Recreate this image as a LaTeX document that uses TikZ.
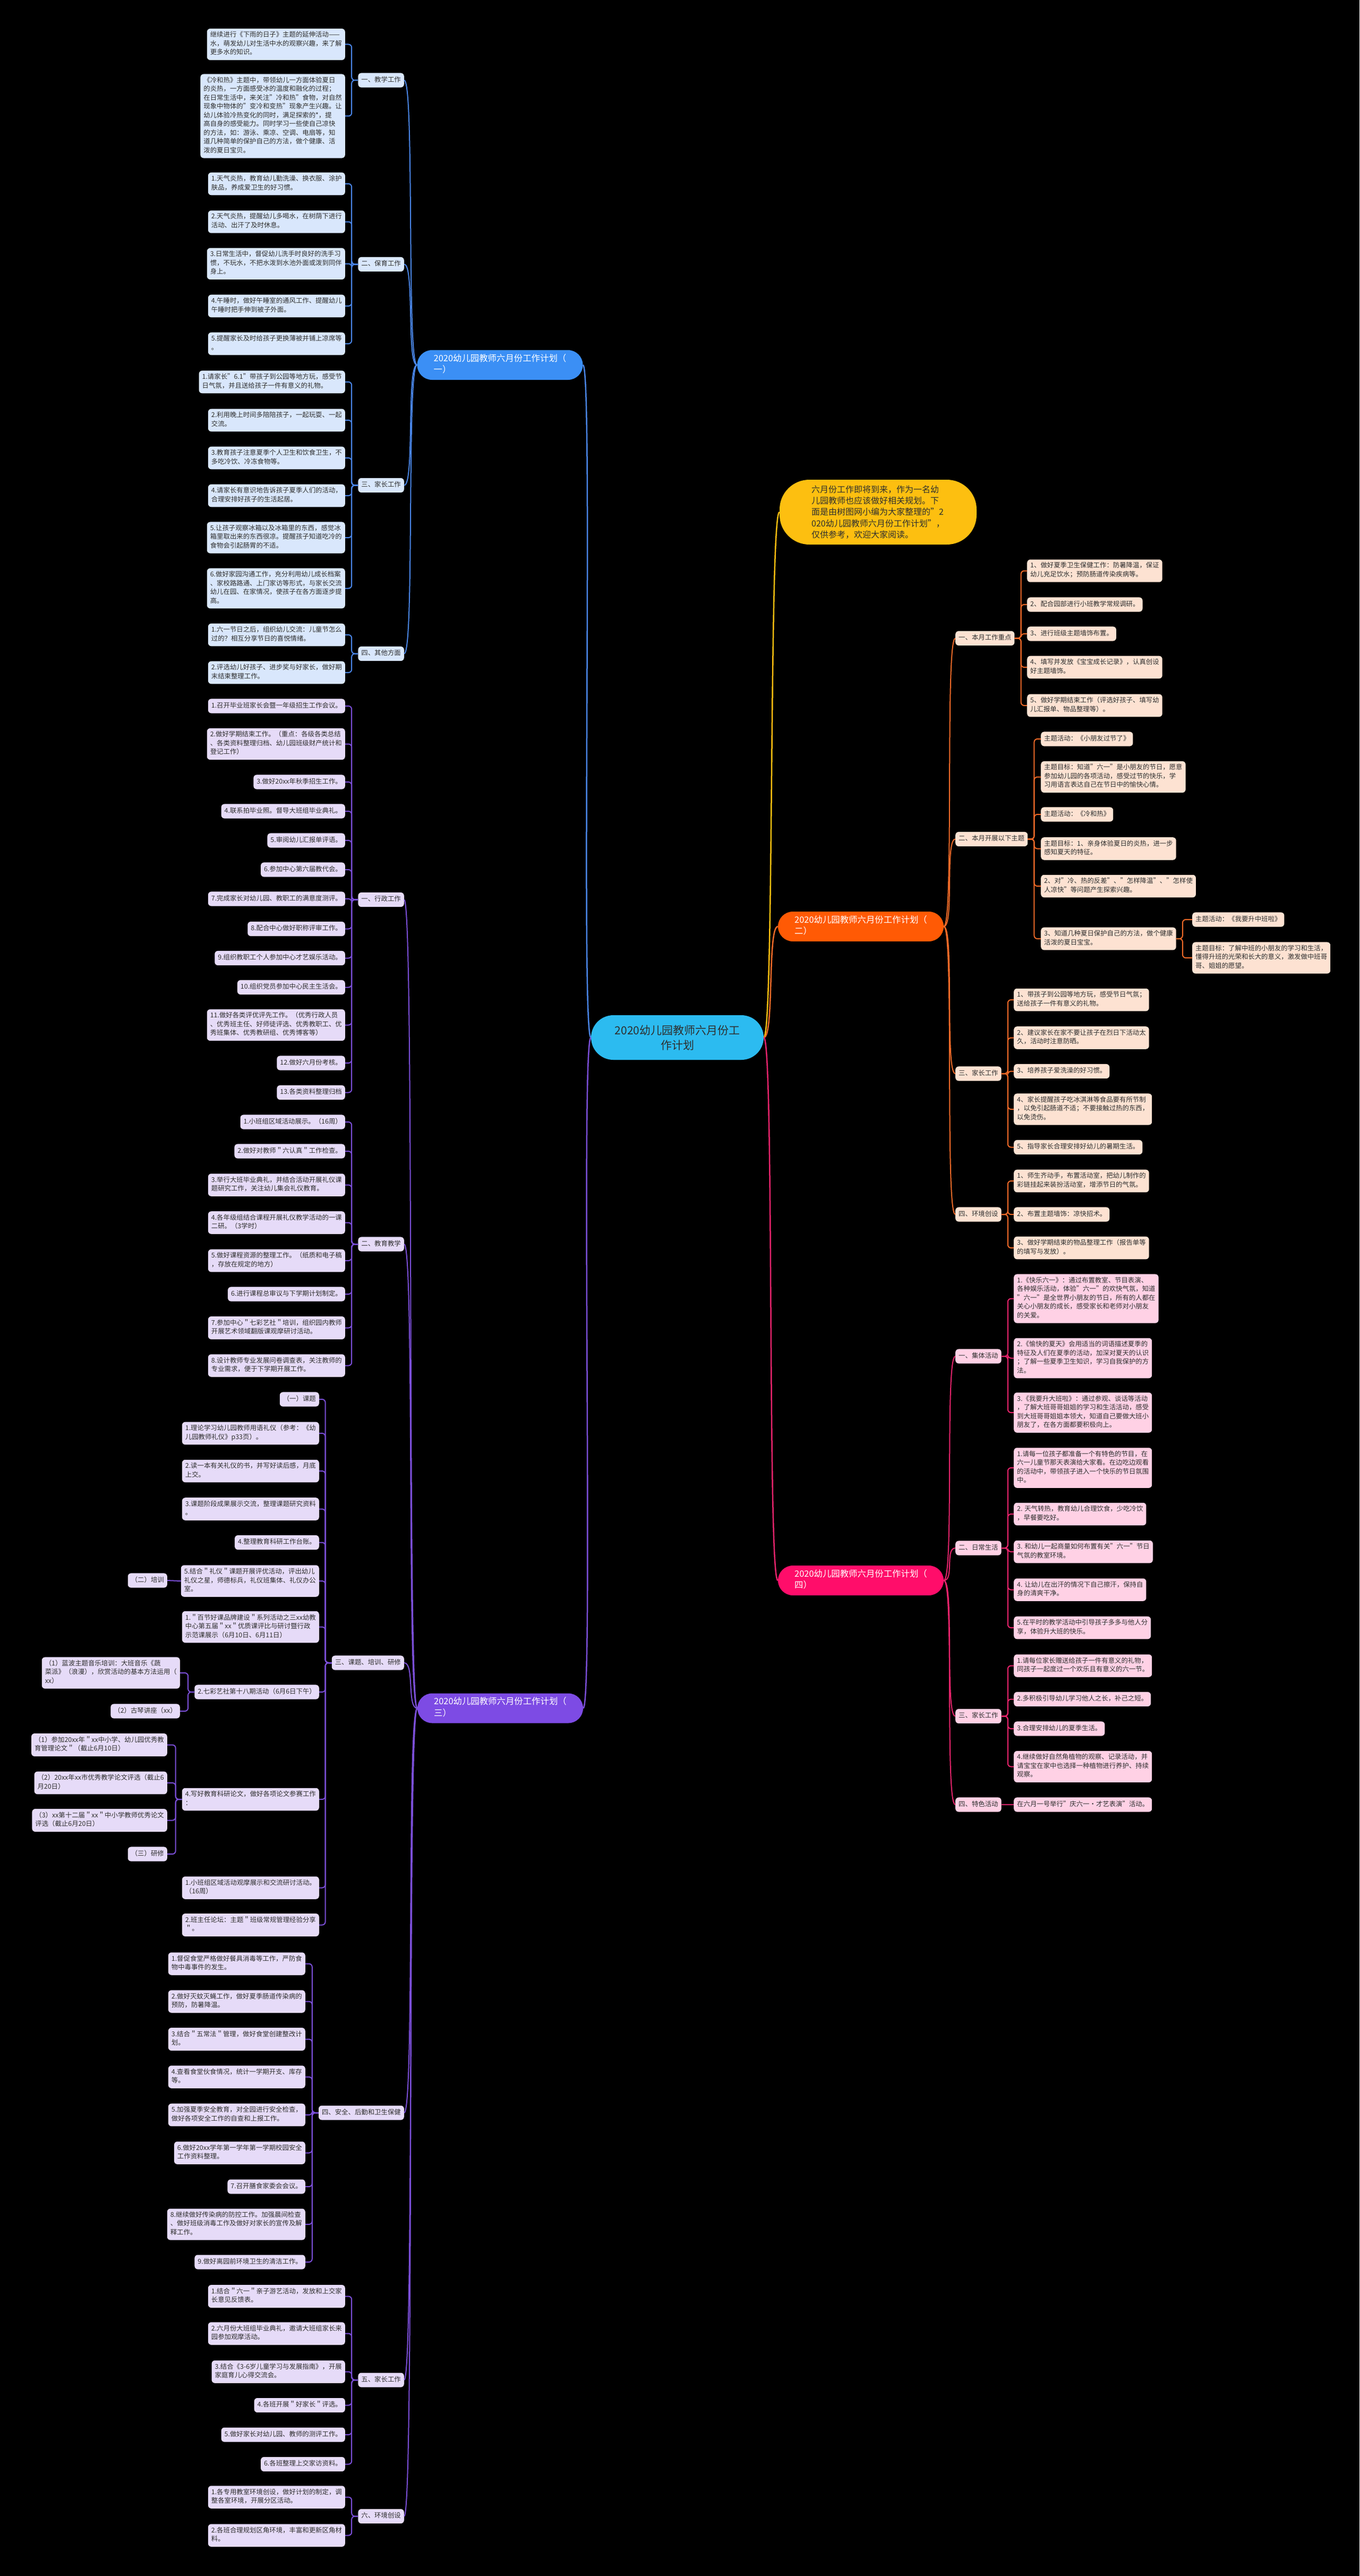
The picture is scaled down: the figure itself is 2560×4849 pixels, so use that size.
\documentclass[tikz,border=0pt]{standalone}
\usepackage{fontspec}
\setmainfont{Noto Sans CJK SC}
\usepackage{tikz}

\definecolor{bluemain}{HTML}{3B8FF5}
\definecolor{bluelight}{HTML}{D9E7FC}
\definecolor{blueline}{HTML}{4A86E8}
\definecolor{purplemain}{HTML}{7D4BE4}
\definecolor{purplelight}{HTML}{E6DBF8}
\definecolor{purpleline}{HTML}{7B4FD8}
\definecolor{orangemain}{HTML}{FF5A05}
\definecolor{orangelight}{HTML}{FDE2D2}
\definecolor{orangeline}{HTML}{F06A28}
\definecolor{pinkmain}{HTML}{FF0D6A}
\definecolor{pinklight}{HTML}{FFD1E5}
\definecolor{pinkline}{HTML}{E8246C}
\definecolor{rootcyan}{HTML}{2CBBF0}
\definecolor{introyellow}{HTML}{FDBF10}
\definecolor{textdark}{HTML}{2E2E2E}

\tikzset{
  leaf/.style={rectangle, rounded corners=6pt, inner xsep=6pt, inner ysep=5.3pt, align=left, text=textdark,
    font=\fontsize{12.4}{16.5}\selectfont, execute at begin node=\strut, execute at end node=\strut},
  blue_leaf/.style={leaf, fill=bluelight, anchor=east},
  purple_leaf/.style={leaf, fill=purplelight, anchor=east},
  orange_leaf/.style={leaf, fill=orangelight, anchor=west},
  pink_leaf/.style={leaf, fill=pinklight, anchor=west},
  plan/.style={rectangle, rounded corners=28pt, minimum width=312pt, minimum height=56pt, inner sep=6.5pt,
    align=left, text=white, font=\fontsize{16.4}{21.5}\selectfont, execute at begin node=\strut, execute at end node=\strut},
  root_box/.style={rectangle, rounded corners=42pt, fill=rootcyan, minimum width=325pt, minimum height=84pt,
    align=center, text=textdark, font=\fontsize{21}{28}\selectfont},
  intro_box/.style={rectangle, rounded corners=56pt, fill=introyellow, minimum width=371pt, minimum height=122pt,
    align=left, text=textdark, font=\fontsize{16}{21.4}\selectfont},
  blue_link/.style={draw=blueline, line width=2pt, rounded corners=6pt},
  purple_link/.style={draw=purpleline, line width=2pt, rounded corners=6pt},
  orange_link/.style={draw=orangeline, line width=2pt, rounded corners=6pt},
  pink_link/.style={draw=pinkline, line width=2pt, rounded corners=6pt},
  blue_curve/.style={draw=blueline, line width=2pt},
  purple_curve/.style={draw=purpleline, line width=2pt},
  orange_curve/.style={draw=orangeline, line width=2pt},
  pink_curve/.style={draw=pinkline, line width=2pt},
  yellow_curve/.style={draw=introyellow, line width=2pt}
}

\begin{document}
\begin{tikzpicture}[x=1pt,y=1pt]
\useasboundingbox (0,0) rectangle (2560,-4849);
\fill[black] (0,0) rectangle (2560,-4849);

% centre and intro
\node[root_box] (root) at (1275.5,-1953) {2020幼儿园教师六月份工\\作计划};
\node[intro_box] (intro) at (1653.5,-964) {六月份工作即将到来，作为一名幼\\儿园教师也应该做好相关规划。下\\面是由树图网小编为大家整理的"2\\020幼儿园教师六月份工作计划"，\\仅供参考，欢迎大家阅读。};

% plan one (blue)
\node[plan, fill=bluemain] (plan_a) at (941.5,-687) {2020幼儿园教师六月份工作计划（\\一）};
\node[blue_leaf] (a_teach) at (761,-151) {一、教学工作};
\node[blue_leaf] (a_teach_1) at (650,-83.5) {继续进行《下雨的日子》主题的延伸活动——\\水，萌发幼儿对生活中水的观察兴趣，来了解\\更多水的知识。};
\node[blue_leaf] (a_teach_2) at (650,-218.5) {《冷和热》主题中，带领幼儿一方面体验夏日\\的炎热，一方面感受冰的温度和融化的过程；\\在日常生活中，来关注"冷和热"食物，对自然\\现象中物体的"变冷和变热"现象产生兴趣。让\\幼儿体验冷热变化的同时，满足探索的*，提\\高自身的感受能力。同时学习一些使自己凉快\\的方法，如：游泳、乘凉、空调、电扇等，知\\道几种简单的保护自己的方法，做个健康、活\\泼的夏日宝贝。};
\node[blue_leaf] (a_care) at (761,-497.5) {二、保育工作};
\node[blue_leaf] (a_care_1) at (650,-346) {1.天气炎热，教育幼儿勤洗澡、换衣服、涂护\\肤品，养成爱卫生的好习惯。};
\node[blue_leaf] (a_care_2) at (650,-417.5) {2.天气炎热，提醒幼儿多喝水，在树荫下进行\\活动、出汗了及时休息。};
\node[blue_leaf] (a_care_3) at (650,-496.5) {3.日常生活中，督促幼儿洗手时良好的洗手习\\惯，不玩水，不把水泼到水池外面或泼到同伴\\身上。};
\node[blue_leaf] (a_care_4) at (650,-576) {4.午睡时，做好午睡室的通风工作、提醒幼儿\\午睡时把手伸到被子外面。};
\node[blue_leaf] (a_care_5) at (650,-647) {5.提醒家长及时给孩子更换薄被并铺上凉席等\\。};
\node[blue_leaf] (a_parent) at (761,-913.5) {三、家长工作};
\node[blue_leaf] (a_parent_1) at (650,-719) {1.请家长"6.1"带孩子到公园等地方玩，感受节\\日气氛，并且送给孩子一件有意义的礼物。};
\node[blue_leaf] (a_parent_2) at (650,-791) {2.利用晚上时间多陪陪孩子，一起玩耍、一起\\交流。};
\node[blue_leaf] (a_parent_3) at (650,-862) {3.教育孩子注意夏季个人卫生和饮食卫生，不\\多吃冷饮、冷冻食物等。};
\node[blue_leaf] (a_parent_4) at (650,-933) {4.请家长有意识地告诉孩子夏季人们的活动，\\合理安排好孩子的生活起居。};
\node[blue_leaf] (a_parent_5) at (650,-1012) {5.让孩子观察冰箱以及冰箱里的东西，感觉冰\\箱里取出来的东西很凉。提醒孩子知道吃冷的\\食物会引起肠胃的不适。};
\node[blue_leaf] (a_parent_6) at (650,-1107.5) {6.做好家园沟通工作，充分利用幼儿成长档案\\、家校路路通、上门家访等形式，与家长交流\\幼儿在园、在家情况，使孩子在各方面逐步提\\高。};
\node[blue_leaf] (a_other) at (761,-1230.5) {四、其他方面};
\node[blue_leaf] (a_other_1) at (650,-1195) {1.六一节日之后，组织幼儿交流：儿童节怎么\\过的？相互分享节日的喜悦情绪。};
\node[blue_leaf] (a_other_2) at (650,-1266) {2.评选幼儿好孩子、进步奖与好家长，做好期\\末结束整理工作。};

% plan three (purple)
\node[plan, fill=purplemain] (plan_c) at (942,-3215.5) {2020幼儿园教师六月份工作计划（\\三）};
\node[purple_leaf] (c_admin) at (761,-1693.5) {一、行政工作};
\node[purple_leaf] (c_admin_1) at (650,-1329) {1.召开毕业班家长会暨一年级招生工作会议。};
\node[purple_leaf] (c_admin_2) at (650,-1400.5) {2.做好学期结束工作。（重点：各级各类总结\\、各类资料整理归档、幼儿园班级财产统计和\\登记工作）};
\node[purple_leaf] (c_admin_3) at (650,-1472) {3.做好20xx年秋季招生工作。};
\node[purple_leaf] (c_admin_4) at (650,-1527) {4.联系拍毕业照。督导大班组毕业典礼。};
\node[purple_leaf] (c_admin_5) at (650,-1582) {5.审阅幼儿汇报单评语。};
\node[purple_leaf] (c_admin_6) at (650,-1637) {6.参加中心第六届教代会。};
\node[purple_leaf] (c_admin_7) at (650,-1692) {7.完成家长对幼儿园、教职工的满意度测评。};
\node[purple_leaf] (c_admin_8) at (650,-1748.5) {8.配合中心做好职称评审工作。};
\node[purple_leaf] (c_admin_9) at (650,-1803.5) {9.组织教职工个人参加中心才艺娱乐活动。};
\node[purple_leaf] (c_admin_10) at (650,-1858.5) {10.组织党员参加中心民主生活会。};
\node[purple_leaf] (c_admin_11) at (650,-1929.5) {11.做好各类评优评先工作。（优秀行政人员\\、优秀班主任、好师徒评选、优秀教职工、优\\秀班集体、优秀教研组、优秀博客等）};
\node[purple_leaf] (c_admin_12) at (650,-2001) {12.做好六月份考核。};
\node[purple_leaf] (c_admin_13) at (650,-2056.5) {13.各类资料整理归档};
\node[purple_leaf] (c_edu) at (761,-2342) {二、教育教学};
\node[purple_leaf] (c_edu_1) at (650,-2112) {1.小班组区域活动展示。（16周）};
\node[purple_leaf] (c_edu_2) at (650,-2167) {2.做好对教师＂六认真＂工作检查。};
\node[purple_leaf] (c_edu_3) at (650,-2230.5) {3.举行大班毕业典礼，并结合活动开展礼仪课\\题研究工作，关注幼儿集会礼仪教育。};
\node[purple_leaf] (c_edu_4) at (650,-2301.5) {4.各年级组结合课程开展礼仪教学活动的一课\\二研。（3学时）};
\node[purple_leaf] (c_edu_5) at (650,-2373) {5.做好课程资源的整理工作。（纸质和电子稿\\，存放在规定的地方）};
\node[purple_leaf] (c_edu_6) at (650,-2436) {6.进行课程总审议与下学期计划制定。};
\node[purple_leaf] (c_edu_7) at (650,-2499.5) {7.参加中心＂七彩艺社＂培训，组织园内教师\\开展艺术领域翻版课观摩研讨活动。};
\node[purple_leaf] (c_edu_8) at (650,-2570.5) {8.设计教师专业发展问卷调查表，关注教师的\\专业需求，便于下学期开展工作。};
\node[purple_leaf] (c_study) at (761,-3130) {三、课题、培训、研修};
\node[purple_leaf] (c_study_1) at (601,-2634) {（一）课题};
\node[purple_leaf] (c_study_2) at (601,-2698) {1.理论学习幼儿园教师用语礼仪（参考：《幼\\儿园教师礼仪》p33页）。};
\node[purple_leaf] (c_study_3) at (601,-2769) {2.读一本有关礼仪的书，并写好读后感，月底\\上交。};
\node[purple_leaf] (c_study_4) at (601,-2840.5) {3.课题阶段成果展示交流，整理课题研究资料\\。};
\node[purple_leaf] (c_study_5) at (601,-2903.5) {4.整理教育科研工作台账。};
\node[purple_leaf] (c_study_6) at (601,-2976) {5.结合＂礼仪＂课题开展评优活动，评出幼儿\\礼仪之星，师德标兵，礼仪班集体、礼仪办公\\室。};
\node[purple_leaf] (c_study_7) at (601,-3062.5) {1.＂百节好课品牌建设＂系列活动之三xx幼教\\中心第五届＂xx＂优质课评比与研讨暨行政\\示范课展示（6月10日、6月11日）};
\node[purple_leaf] (c_study_8) at (601,-3185) {2.七彩艺社第十八期活动（6月6日下午）};
\node[purple_leaf] (c_study_9) at (601,-3387) {4.写好教育科研论文，做好各项论文参赛工作\\：};
\node[purple_leaf] (c_study_10) at (601,-3553.5) {1.小班组区域活动观摩展示和交流研讨活动。\\（16周）};
\node[purple_leaf] (c_study_11) at (601,-3623.5) {2.班主任论坛：主题＂班级常规管理经验分享\\＂。};
\node[purple_leaf] (c_train) at (315,-2975) {（二）培训};
\node[purple_leaf] (c_art_1) at (339,-3149) {（1）蓝波主题音乐培训：大班音乐《蔬\\菜派》（浪漫），欣赏活动的基本方法运用（\\xx）};
\node[purple_leaf] (c_art_2) at (339,-3221) {（2）古琴讲座（xx）};
\node[purple_leaf] (c_paper_1) at (315,-3284.5) {（1）参加20xx年＂xx中小学、幼儿园优秀教\\育管理论文＂（截止6月10日）};
\node[purple_leaf] (c_paper_2) at (315,-3356) {（2）20xx年xx市优秀教学论文评选（截止6\\月20日）};
\node[purple_leaf] (c_paper_3) at (315,-3426.5) {（3）xx第十二届＂xx＂中小学教师优秀论文\\评选（截止6月20日）};
\node[purple_leaf] (c_research) at (315,-3490) {（三）研修};
\node[purple_leaf] (c_safe) at (761,-3977) {四、安全、后勤和卫生保健};
\node[purple_leaf] (c_safe_1) at (575,-3696.5) {1.督促食堂严格做好餐具消毒等工作，严防食\\物中毒事件的发生。};
\node[purple_leaf] (c_safe_2) at (575,-3767.5) {2.做好灭蚊灭蝇工作，做好夏季肠道传染病的\\预防，防暑降温。};
\node[purple_leaf] (c_safe_3) at (575,-3838.5) {3.结合＂五常法＂管理，做好食堂创建整改计\\划。};
\node[purple_leaf] (c_safe_4) at (575,-3909.5) {4.查看食堂伙食情况，统计一学期开支、库存\\等。};
\node[purple_leaf] (c_safe_5) at (575,-3981) {5.加强夏季安全教育，对全园进行安全检查，\\做好各项安全工作的自查和上报工作。};
\node[purple_leaf] (c_safe_6) at (575,-4052.5) {6.做好20xx学年第一学年第一学期校园安全\\工作资料整理。};
\node[purple_leaf] (c_safe_7) at (575,-4116) {7.召开膳食家委会会议。};
\node[purple_leaf] (c_safe_8) at (575,-4187) {8.继续做好传染病的防控工作。加强晨间检查\\、做好班级消毒工作及做好对家长的宣传及解\\释工作。};
\node[purple_leaf] (c_safe_9) at (575,-4258) {9.做好离园前环境卫生的清洁工作。};
\node[purple_leaf] (c_home) at (761,-4480) {五、家长工作};
\node[purple_leaf] (c_home_1) at (650,-4322.5) {1.结合＂六一＂亲子游艺活动，发放和上交家\\长意见反馈表。};
\node[purple_leaf] (c_home_2) at (650,-4392.5) {2.六月份大班组毕业典礼，邀请大班组家长来\\园参加观摩活动。};
\node[purple_leaf] (c_home_3) at (650,-4464.5) {3.结合《3-6岁儿童学习与发展指南》，开展\\家庭育儿心得交流会。};
\node[purple_leaf] (c_home_4) at (650,-4527.5) {4.各班开展＂好家长＂评选。};
\node[purple_leaf] (c_home_5) at (650,-4583) {5.做好家长对幼儿园、教师的测评工作。};
\node[purple_leaf] (c_home_6) at (650,-4638.5) {6.各班整理上交家访资料。};
\node[purple_leaf] (c_env) at (761,-4736.5) {六、环境创设};
\node[purple_leaf] (c_env_1) at (650,-4700.5) {1.各专用教室环境创设，做好计划的制定，调\\整各室环境，开展分区活动。};
\node[purple_leaf] (c_env_2) at (650,-4772.5) {2.各班合理规划区角环境，丰富和更新区角材\\料。};

% plan two (orange)
\node[plan, fill=orangemain] (plan_b) at (1621,-1744) {2020幼儿园教师六月份工作计划（\\二）};
\node[orange_leaf] (b_focus) at (1799,-1201.5) {一、本月工作重点};
\node[orange_leaf] (b_focus_1) at (1934,-1074.5) {1、做好夏季卫生保健工作：防暑降温，保证\\幼儿充足饮水；预防肠道传染疾病等。};
\node[orange_leaf] (b_focus_2) at (1934,-1138) {2、配合园部进行小班教学常规调研。};
\node[orange_leaf] (b_focus_3) at (1934,-1193) {3、进行班级主题墙饰布置。};
\node[orange_leaf] (b_focus_4) at (1934,-1256) {4、填写并发放《宝宝成长记录》，认真创设\\好主题墙饰。};
\node[orange_leaf] (b_focus_5) at (1934,-1328) {5、做好学期结束工作（评选好孩子、填写幼\\儿汇报单、物品整理等）。};
\node[orange_leaf] (b_theme) at (1799,-1579.5) {二、本月开展以下主题};
\node[orange_leaf] (b_theme_1) at (1960,-1391) {主题活动：《小朋友过节了》};
\node[orange_leaf] (b_theme_2) at (1960,-1462.5) {主题目标：知道"六一"是小朋友的节日，愿意\\参加幼儿园的各项活动，感受过节的快乐，学\\习用语言表达自己在节日中的愉快心情。};
\node[orange_leaf] (b_theme_3) at (1960,-1533) {主题活动：《冷和热》};
\node[orange_leaf] (b_theme_4) at (1960,-1597.5) {主题目标：1、亲身体验夏日的炎热，进一步\\感知夏天的特征。};
\node[orange_leaf] (b_theme_5) at (1960,-1668) {2、对"冷、热的反差"、"怎样降温"、"怎样使\\人凉快"等问题产生探索兴趣。};
\node[orange_leaf] (b_theme_6) at (1960,-1767) {3、知道几种夏日保护自己的方法，做个健康\\活泼的夏日宝宝。};
\node[orange_leaf] (b_grow_1) at (2245,-1731) {主题活动：《我要升中班啦》};
\node[orange_leaf] (b_grow_2) at (2245,-1803) {主题目标：了解中班的小朋友的学习和生活，\\懂得升班的光荣和长大的意义，激发做中班哥\\哥、姐姐的愿望。};
\node[orange_leaf] (b_parent) at (1799,-2021) {三、家长工作};
\node[orange_leaf] (b_parent_1) at (1909,-1882) {1、带孩子到公园等地方玩，感受节日气氛；\\送给孩子一件有意义的礼物。};
\node[orange_leaf] (b_parent_2) at (1909,-1953.5) {2、建议家长在家不要让孩子在烈日下活动太\\久，活动时注意防晒。};
\node[orange_leaf] (b_parent_3) at (1909,-2016.5) {3、培养孩子爱洗澡的好习惯。};
\node[orange_leaf] (b_parent_4) at (1909,-2088) {4、家长提醒孩子吃冰淇淋等食品要有所节制\\，以免引起肠道不适；不要接触过热的东西，\\以免烫伤。};
\node[orange_leaf] (b_parent_5) at (1909,-2159.5) {5、指导家长合理安排好幼儿的暑期生活。};
\node[orange_leaf] (b_env) at (1799,-2286) {四、环境创设};
\node[orange_leaf] (b_env_1) at (1909,-2223) {1、师生齐动手，布置活动室，把幼儿制作的\\彩链挂起来装扮活动室，增添节日的气氛。};
\node[orange_leaf] (b_env_2) at (1909,-2286) {2、布置主题墙饰：凉快招术。};
\node[orange_leaf] (b_env_3) at (1909,-2349) {3、做好学期结束的物品整理工作（报告单等\\的填写与发放）。};

% plan four (pink)
\node[plan, fill=pinkmain] (plan_d) at (1621,-2975) {2020幼儿园教师六月份工作计划（\\四）};
\node[pink_leaf] (d_group) at (1799,-2553) {一、集体活动};
\node[pink_leaf] (d_group_1) at (1909,-2444.5) {1.《快乐六一》：通过布置教室、节目表演、\\各种娱乐活动，体验"六一"的欢快气氛，知道\\"六一"是全世界小朋友的节日，所有的人都在\\关心小朋友的成长，感受家长和老师对小朋友\\的关爱。};
\node[pink_leaf] (d_group_2) at (1909,-2556.5) {2.《愉快的夏天》会用适当的词语描述夏季的\\特征及人们在夏季的活动，加深对夏天的认识\\；了解一些夏季卫生知识，学习自我保护的方\\法。};
\node[pink_leaf] (d_group_3) at (1909,-2659) {3.《我要升大班啦》：通过参观、谈话等活动\\，了解大班哥哥姐姐的学习和生活活动，感受\\到大班哥哥姐姐本领大，知道自己要做大班小\\朋友了，在各方面都要积极向上。};
\node[pink_leaf] (d_daily) at (1799,-2914) {二、日常生活};
\node[pink_leaf] (d_daily_1) at (1909,-2763) {1.请每一位孩子都准备一个有特色的节目，在\\六一儿童节那天表演给大家看。在边吃边观看\\的活动中，带领孩子进入一个快乐的节日氛围\\中。};
\node[pink_leaf] (d_daily_2) at (1909,-2850) {2. 天气转热，教育幼儿合理饮食，少吃冷饮\\，早餐要吃好。};
\node[pink_leaf] (d_daily_3) at (1909,-2921) {3. 和幼儿一起商量如何布置有关"六一"节日\\气氛的教室环境。};
\node[pink_leaf] (d_daily_4) at (1909,-2992.5) {4. 让幼儿在出汗的情况下自己擦汗，保持自\\身的清爽干净。};
\node[pink_leaf] (d_daily_5) at (1909,-3064) {5.在平时的教学活动中引导孩子多多与他人分\\享，体验升大班的快乐。};
\node[pink_leaf] (d_parent) at (1799,-3230.5) {三、家长工作};
\node[pink_leaf] (d_parent_1) at (1909,-3135.5) {1.请每位家长赠送给孩子一件有意义的礼物，\\同孩子一起度过一个欢乐且有意义的六一节。};
\node[pink_leaf] (d_parent_2) at (1909,-3198.5) {2.多积极引导幼儿学习他人之长，补己之短。};
\node[pink_leaf] (d_parent_3) at (1909,-3254) {3.合理安排幼儿的夏季生活。};
\node[pink_leaf] (d_parent_4) at (1909,-3325.5) {4.继续做好自然角植物的观察、记录活动，并\\请宝宝在家中也选择一种植物进行养护、持续\\观察。};
\node[pink_leaf] (d_event) at (1799,-3397) {四、特色活动};
\node[pink_leaf] (d_event_1) at (1909,-3397) {在六月一号举行"庆六一·才艺表演"活动。};

% links from the centre
\draw[blue_curve, line width=2.5pt] (root.west) .. controls +(-20,0) and +(20,0) .. (plan_a.east);
\draw[purple_curve, line width=2.5pt] (root.west) .. controls +(-20,0) and +(20,0) .. (plan_c.east);
\draw[yellow_curve, line width=2.5pt] (root.east) .. controls +(20,0) and +(-20,0) .. (intro.west);
\draw[orange_curve, line width=2.5pt] (root.east) .. controls +(20,0) and +(-20,0) .. (plan_b.west);
\draw[pink_curve, line width=2.5pt] (root.east) .. controls +(20,0) and +(-20,0) .. (plan_d.west);

% plan one links
\draw[blue_curve] (plan_a.west) .. controls +(-20,0) and +(20,0) .. (a_teach.east);
\draw[blue_curve] (plan_a.west) .. controls +(-20,0) and +(20,0) .. (a_care.east);
\draw[blue_curve] (plan_a.west) .. controls +(-20,0) and +(20,0) .. (a_parent.east);
\draw[blue_curve] (plan_a.west) .. controls +(-20,0) and +(20,0) .. (a_other.east);
\draw[blue_link] (a_teach.west) -- ++(-12,0) |- (a_teach_1.east);
\draw[blue_link] (a_teach.west) -- ++(-12,0) |- (a_teach_2.east);
\draw[blue_link] (a_care.west) -- ++(-12,0) |- (a_care_1.east);
\draw[blue_link] (a_care.west) -- ++(-12,0) |- (a_care_2.east);
\draw[blue_link] (a_care.west) -- ++(-12,0) |- (a_care_3.east);
\draw[blue_link] (a_care.west) -- ++(-12,0) |- (a_care_4.east);
\draw[blue_link] (a_care.west) -- ++(-12,0) |- (a_care_5.east);
\draw[blue_link] (a_parent.west) -- ++(-12,0) |- (a_parent_1.east);
\draw[blue_link] (a_parent.west) -- ++(-12,0) |- (a_parent_2.east);
\draw[blue_link] (a_parent.west) -- ++(-12,0) |- (a_parent_3.east);
\draw[blue_link] (a_parent.west) -- ++(-12,0) |- (a_parent_4.east);
\draw[blue_link] (a_parent.west) -- ++(-12,0) |- (a_parent_5.east);
\draw[blue_link] (a_parent.west) -- ++(-12,0) |- (a_parent_6.east);
\draw[blue_link] (a_other.west) -- ++(-12,0) |- (a_other_1.east);
\draw[blue_link] (a_other.west) -- ++(-12,0) |- (a_other_2.east);

% plan three links
\draw[purple_curve] (plan_c.west) .. controls +(-20,0) and +(20,0) .. (c_admin.east);
\draw[purple_curve] (plan_c.west) .. controls +(-20,0) and +(20,0) .. (c_edu.east);
\draw[purple_curve] (plan_c.west) .. controls +(-20,0) and +(20,0) .. (c_study.east);
\draw[purple_curve] (plan_c.west) .. controls +(-20,0) and +(20,0) .. (c_safe.east);
\draw[purple_curve] (plan_c.west) .. controls +(-20,0) and +(20,0) .. (c_home.east);
\draw[purple_curve] (plan_c.west) .. controls +(-20,0) and +(20,0) .. (c_env.east);
\draw[purple_link] (c_admin.west) -- ++(-12,0) |- (c_admin_1.east);
\draw[purple_link] (c_admin.west) -- ++(-12,0) |- (c_admin_2.east);
\draw[purple_link] (c_admin.west) -- ++(-12,0) |- (c_admin_3.east);
\draw[purple_link] (c_admin.west) -- ++(-12,0) |- (c_admin_4.east);
\draw[purple_link] (c_admin.west) -- ++(-12,0) |- (c_admin_5.east);
\draw[purple_link] (c_admin.west) -- ++(-12,0) |- (c_admin_6.east);
\draw[purple_link] (c_admin.west) -- ++(-12,0) |- (c_admin_7.east);
\draw[purple_link] (c_admin.west) -- ++(-12,0) |- (c_admin_8.east);
\draw[purple_link] (c_admin.west) -- ++(-12,0) |- (c_admin_9.east);
\draw[purple_link] (c_admin.west) -- ++(-12,0) |- (c_admin_10.east);
\draw[purple_link] (c_admin.west) -- ++(-12,0) |- (c_admin_11.east);
\draw[purple_link] (c_admin.west) -- ++(-12,0) |- (c_admin_12.east);
\draw[purple_link] (c_admin.west) -- ++(-12,0) |- (c_admin_13.east);
\draw[purple_link] (c_edu.west) -- ++(-12,0) |- (c_edu_1.east);
\draw[purple_link] (c_edu.west) -- ++(-12,0) |- (c_edu_2.east);
\draw[purple_link] (c_edu.west) -- ++(-12,0) |- (c_edu_3.east);
\draw[purple_link] (c_edu.west) -- ++(-12,0) |- (c_edu_4.east);
\draw[purple_link] (c_edu.west) -- ++(-12,0) |- (c_edu_5.east);
\draw[purple_link] (c_edu.west) -- ++(-12,0) |- (c_edu_6.east);
\draw[purple_link] (c_edu.west) -- ++(-12,0) |- (c_edu_7.east);
\draw[purple_link] (c_edu.west) -- ++(-12,0) |- (c_edu_8.east);
\draw[purple_link] (c_study.west) -- ++(-12,0) |- (c_study_1.east);
\draw[purple_link] (c_study.west) -- ++(-12,0) |- (c_study_2.east);
\draw[purple_link] (c_study.west) -- ++(-12,0) |- (c_study_3.east);
\draw[purple_link] (c_study.west) -- ++(-12,0) |- (c_study_4.east);
\draw[purple_link] (c_study.west) -- ++(-12,0) |- (c_study_5.east);
\draw[purple_link] (c_study.west) -- ++(-12,0) |- (c_study_6.east);
\draw[purple_link] (c_study.west) -- ++(-12,0) |- (c_study_7.east);
\draw[purple_link] (c_study.west) -- ++(-12,0) |- (c_study_8.east);
\draw[purple_link] (c_study.west) -- ++(-12,0) |- (c_study_9.east);
\draw[purple_link] (c_study.west) -- ++(-12,0) |- (c_study_10.east);
\draw[purple_link] (c_study.west) -- ++(-12,0) |- (c_study_11.east);
\draw[purple_link] (c_study_6.west) -- (c_train.east);
\draw[purple_link] (c_study_8.west) -- ++(-12,0) |- (c_art_1.east);
\draw[purple_link] (c_study_8.west) -- ++(-12,0) |- (c_art_2.east);
\draw[purple_link] (c_study_9.west) -- ++(-12,0) |- (c_paper_1.east);
\draw[purple_link] (c_study_9.west) -- ++(-12,0) |- (c_paper_2.east);
\draw[purple_link] (c_study_9.west) -- ++(-12,0) |- (c_paper_3.east);
\draw[purple_link] (c_study_9.west) -- ++(-12,0) |- (c_research.east);
\draw[purple_link] (c_safe.west) -- ++(-12,0) |- (c_safe_1.east);
\draw[purple_link] (c_safe.west) -- ++(-12,0) |- (c_safe_2.east);
\draw[purple_link] (c_safe.west) -- ++(-12,0) |- (c_safe_3.east);
\draw[purple_link] (c_safe.west) -- ++(-12,0) |- (c_safe_4.east);
\draw[purple_link] (c_safe.west) -- ++(-12,0) |- (c_safe_5.east);
\draw[purple_link] (c_safe.west) -- ++(-12,0) |- (c_safe_6.east);
\draw[purple_link] (c_safe.west) -- ++(-12,0) |- (c_safe_7.east);
\draw[purple_link] (c_safe.west) -- ++(-12,0) |- (c_safe_8.east);
\draw[purple_link] (c_safe.west) -- ++(-12,0) |- (c_safe_9.east);
\draw[purple_link] (c_home.west) -- ++(-12,0) |- (c_home_1.east);
\draw[purple_link] (c_home.west) -- ++(-12,0) |- (c_home_2.east);
\draw[purple_link] (c_home.west) -- ++(-12,0) |- (c_home_3.east);
\draw[purple_link] (c_home.west) -- ++(-12,0) |- (c_home_4.east);
\draw[purple_link] (c_home.west) -- ++(-12,0) |- (c_home_5.east);
\draw[purple_link] (c_home.west) -- ++(-12,0) |- (c_home_6.east);
\draw[purple_link] (c_env.west) -- ++(-12,0) |- (c_env_1.east);
\draw[purple_link] (c_env.west) -- ++(-12,0) |- (c_env_2.east);

% plan two links
\draw[orange_curve] (plan_b.east) .. controls +(20,0) and +(-20,0) .. (b_focus.west);
\draw[orange_curve] (plan_b.east) .. controls +(20,0) and +(-20,0) .. (b_theme.west);
\draw[orange_curve] (plan_b.east) .. controls +(20,0) and +(-20,0) .. (b_parent.west);
\draw[orange_curve] (plan_b.east) .. controls +(20,0) and +(-20,0) .. (b_env.west);
\draw[orange_link] (b_focus.east) -- ++(12,0) |- (b_focus_1.west);
\draw[orange_link] (b_focus.east) -- ++(12,0) |- (b_focus_2.west);
\draw[orange_link] (b_focus.east) -- ++(12,0) |- (b_focus_3.west);
\draw[orange_link] (b_focus.east) -- ++(12,0) |- (b_focus_4.west);
\draw[orange_link] (b_focus.east) -- ++(12,0) |- (b_focus_5.west);
\draw[orange_link] (b_theme.east) -- ++(12,0) |- (b_theme_1.west);
\draw[orange_link] (b_theme.east) -- ++(12,0) |- (b_theme_2.west);
\draw[orange_link] (b_theme.east) -- ++(12,0) |- (b_theme_3.west);
\draw[orange_link] (b_theme.east) -- ++(12,0) |- (b_theme_4.west);
\draw[orange_link] (b_theme.east) -- ++(12,0) |- (b_theme_5.west);
\draw[orange_link] (b_theme.east) -- ++(12,0) |- (b_theme_6.west);
\draw[orange_link] (b_theme_6.east) -- ++(12,0) |- (b_grow_1.west);
\draw[orange_link] (b_theme_6.east) -- ++(12,0) |- (b_grow_2.west);
\draw[orange_link] (b_parent.east) -- ++(12,0) |- (b_parent_1.west);
\draw[orange_link] (b_parent.east) -- ++(12,0) |- (b_parent_2.west);
\draw[orange_link] (b_parent.east) -- ++(12,0) |- (b_parent_3.west);
\draw[orange_link] (b_parent.east) -- ++(12,0) |- (b_parent_4.west);
\draw[orange_link] (b_parent.east) -- ++(12,0) |- (b_parent_5.west);
\draw[orange_link] (b_env.east) -- ++(12,0) |- (b_env_1.west);
\draw[orange_link] (b_env.east) -- ++(12,0) |- (b_env_2.west);
\draw[orange_link] (b_env.east) -- ++(12,0) |- (b_env_3.west);

% plan four links
\draw[pink_curve] (plan_d.east) .. controls +(20,0) and +(-20,0) .. (d_group.west);
\draw[pink_curve] (plan_d.east) .. controls +(20,0) and +(-20,0) .. (d_daily.west);
\draw[pink_curve] (plan_d.east) .. controls +(20,0) and +(-20,0) .. (d_parent.west);
\draw[pink_curve] (plan_d.east) .. controls +(20,0) and +(-20,0) .. (d_event.west);
\draw[pink_link] (d_group.east) -- ++(12,0) |- (d_group_1.west);
\draw[pink_link] (d_group.east) -- ++(12,0) |- (d_group_2.west);
\draw[pink_link] (d_group.east) -- ++(12,0) |- (d_group_3.west);
\draw[pink_link] (d_daily.east) -- ++(12,0) |- (d_daily_1.west);
\draw[pink_link] (d_daily.east) -- ++(12,0) |- (d_daily_2.west);
\draw[pink_link] (d_daily.east) -- ++(12,0) |- (d_daily_3.west);
\draw[pink_link] (d_daily.east) -- ++(12,0) |- (d_daily_4.west);
\draw[pink_link] (d_daily.east) -- ++(12,0) |- (d_daily_5.west);
\draw[pink_link] (d_parent.east) -- ++(12,0) |- (d_parent_1.west);
\draw[pink_link] (d_parent.east) -- ++(12,0) |- (d_parent_2.west);
\draw[pink_link] (d_parent.east) -- ++(12,0) |- (d_parent_3.west);
\draw[pink_link] (d_parent.east) -- ++(12,0) |- (d_parent_4.west);
\draw[pink_link] (d_event.east) -- (d_event_1.west);
\end{tikzpicture}
\end{document}
